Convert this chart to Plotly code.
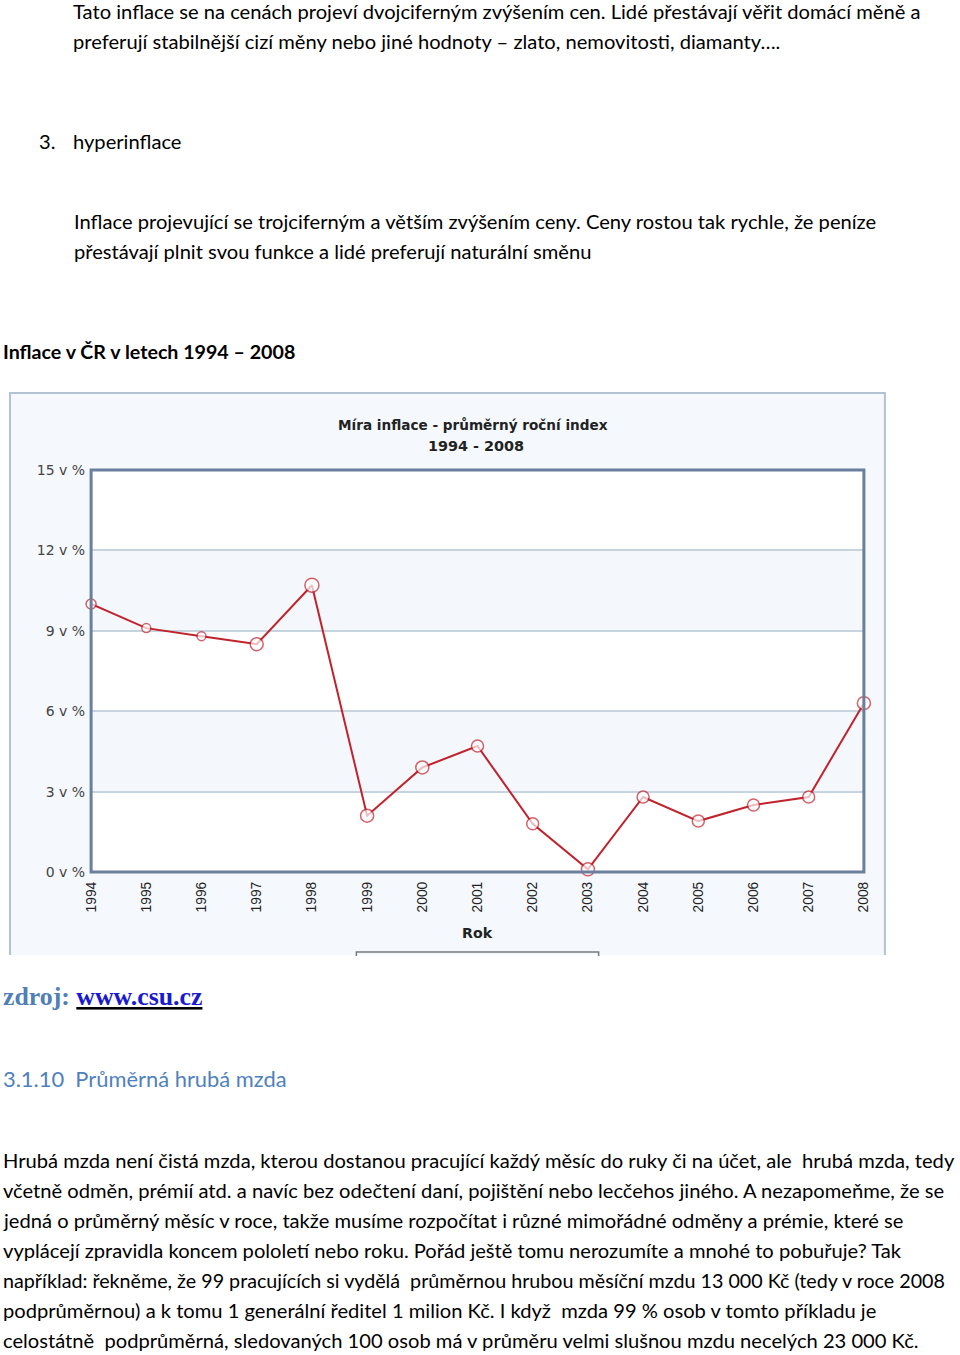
import plotly.graph_objects as go

# reference picture size; the figure is drawn slightly larger because the page is framed
REF_W, REF_H = 960, 1355
FIG_W, FIG_H = 976, 1371

years = list(range(1994, 2009))
inflation = [10.0, 9.1, 8.8, 8.5, 10.7, 2.1, 3.9, 4.7, 1.8, 0.1, 2.8, 1.9, 2.5, 2.8, 6.3]
marker_sizes = [10, 9, 9, 13, 14, 13, 13, 12, 12, 13, 12, 12, 12, 12, 13]
y_tick_vals = [0, 3, 6, 9, 12, 15]
y_tick_text = ["0 v %", "3 v %", "6 v %", "9 v %", "12 v %", "15 v %"]
x_tick_text = [str(y) for y in years]

chart_title = "Míra inflace - průměrný roční index"
chart_subtitle = "1994 - 2008"
x_title = "Rok"

intro_lines = [
    "Tato inflace se na cenách projeví dvojciferným zvýšením cen. Lidé přestávají věřit domácí měně a",
    "preferují stabilnější cizí měny nebo jiné hodnoty – zlato, nemovitosti, diamanty….",
]
item_number = "3."
item_title = "hyperinflace"
item_lines = [
    "Inflace projevující se trojciferným a větším zvýšením ceny. Ceny rostou tak rychle, že peníze",
    "přestávají plnit svou funkce a lidé preferují naturální směnu",
]
section_heading = "Inflace v ČR v letech 1994 – 2008"
source_label = "zdroj:"
source_link = "www.csu.cz"
next_heading = "3.1.10  Průměrná hrubá mzda"
para_lines = [
    "Hrubá mzda není čistá mzda, kterou dostanou pracující každý měsíc do ruky či na účet, ale  hrubá mzda, tedy",
    "včetně odměn, prémií atd. a navíc bez odečtení daní, pojištění nebo lecčehos jiného. A nezapomeňme, že se",
    "jedná o průměrný měsíc v roce, takže musíme rozpočítat i různé mimořádné odměny a prémie, které se",
    "vyplácejí zpravidla koncem pololetí nebo roku. Pořád ještě tomu nerozumíte a mnohé to pobuřuje? Tak",
    "například: řekněme, že 99 pracujících si vydělá  průměrnou hrubou měsíční mzdu 13 000 Kč (tedy v roce 2008",
    "podprůměrnou) a k tomu 1 generální ředitel 1 milion Kč. I když  mzda 99 % osob v tomto příkladu je",
    "celostátně  podprůměrná, sledovaných 100 osob má v průměru velmi slušnou mzdu necelých 23 000 Kč.",
]
para_sizes = [20.15, 20.15, 20.15, 20.15, 19.7, 20.15, 20.15]


def px(x):
    return x / REF_W


def py(y):
    return 1 - y / REF_H


BODY = "Lato"
BODY_SIZE = 20.15

fig = go.Figure()
fig.add_trace(go.Scatter(
    x=years, y=inflation, mode="lines+markers",
    line=dict(color="#c1222c", width=2),
    marker=dict(size=marker_sizes, color="white", line=dict(color="#c1222c", width=1.5)),
    cliponaxis=False, hoverinfo="x+y", showlegend=False,
))

shapes = []
shapes.append(dict(type="rect", xref="paper", yref="paper", x0=px(10), x1=px(884), y0=py(955), y1=py(393),
                   fillcolor="#f5f9fd", line=dict(width=0), layer="below"))
shapes.append(dict(type="path", xref="paper", yref="paper",
                   path=f"M{px(10)},{py(955)} L{px(10)},{py(393)} L{px(884)},{py(393)} L{px(884)},{py(955)}",
                   line=dict(color="#b3c3d3", width=2)))
shapes.append(dict(type="rect", xref="x domain", yref="y domain", x0=0, x1=1, y0=0, y1=1,
                   fillcolor="white", line=dict(width=0), layer="below"))
for lo, hi in [(9, 12), (3, 6)]:
    shapes.append(dict(type="rect", xref="x domain", yref="y", x0=0, x1=1, y0=lo, y1=hi,
                       fillcolor="#f4f8fc", line=dict(width=0), layer="below"))
shapes.append(dict(type="rect", xref="x domain", yref="y domain", x0=0, x1=1, y0=0, y1=1,
                   line=dict(color="#6a7f9b", width=3), layer="above"))
shapes.append(dict(type="path", xref="paper", yref="paper",
                   path=f"M{px(356)},{py(956)} L{px(356)},{py(952)} L{px(598)},{py(952)} L{px(598)},{py(956)}",
                   line=dict(color="#7a7a7a", width=1.5)))

ann = []


def text(x, y, s, size=BODY_SIZE, color="#000000", family=BODY, xanchor="left"):
    ann.append(dict(x=px(x), y=py(y), xref="paper", yref="paper", text=s, showarrow=False,
                    xanchor=xanchor, yanchor="middle", font=dict(family=family, size=size, color=color)))


for i, s in enumerate(intro_lines):
    text(71, 11 + 30 * i, s)
text(37, 141, item_number)
text(71, 141, item_title)
for i, s in enumerate(item_lines):
    text(72, 221 + 30 * i, s)
text(1, 351, "<b>" + section_heading + "</b>", size=19.65)

text(473, 425, "<b>" + chart_title + "</b>", size=13.6, color="#222222", family="DejaVu Sans", xanchor="center")
text(476, 446, "<b>" + chart_subtitle + "</b>", size=14.4, color="#222222", family="DejaVu Sans", xanchor="center")
text(477, 933, "<b>" + x_title + "</b>", size=14.2, color="#222222", family="DejaVu Sans", xanchor="center")

text(1, 996, f"<b><span style='color:#4f7fb6'>{source_label}</span> <u><span style='color:#1a1ad0'>{source_link}</span></u></b>",
     size=25.8, family="Liberation Serif")
text(1, 1078, next_heading, size=21.9, color="#4f81bd")
for i, (s, sz) in enumerate(zip(para_lines, para_sizes)):
    text(1, 1160 + 30 * i, s, size=sz)

fig.update_layout(
    width=FIG_W, height=FIG_H, margin=dict(l=0, r=0, t=0, b=0),
    paper_bgcolor="white", plot_bgcolor="rgba(0,0,0,0)",
    shapes=shapes, annotations=ann,
    xaxis=dict(domain=[px(91), px(863)], range=[1994, 2008], tickvals=years, ticktext=x_tick_text,
               tickangle=-90, showgrid=False, zeroline=False, showline=False, ticks="",
               ticklabelstandoff=6,
               tickfont=dict(family="Liberation Sans", size=13.8, color="#222222")),
    yaxis=dict(domain=[py(872), py(470)], range=[0, 15], tickvals=y_tick_vals, ticktext=y_tick_text,
               showgrid=True, gridcolor="#c6d4e0", gridwidth=2, zeroline=False, showline=False, ticks="",
               ticklabelstandoff=5,
               tickfont=dict(family="DejaVu Sans", size=14, color="#444444")),
)

post = ("document.body.style.margin='0';"
        "var d=document.getElementById('{plot_id}');"
        "d.style.marginLeft='-8px';d.style.marginTop='-8px';")
fig.write_html("out.html", config={"displayModeBar": False}, post_script=post)
